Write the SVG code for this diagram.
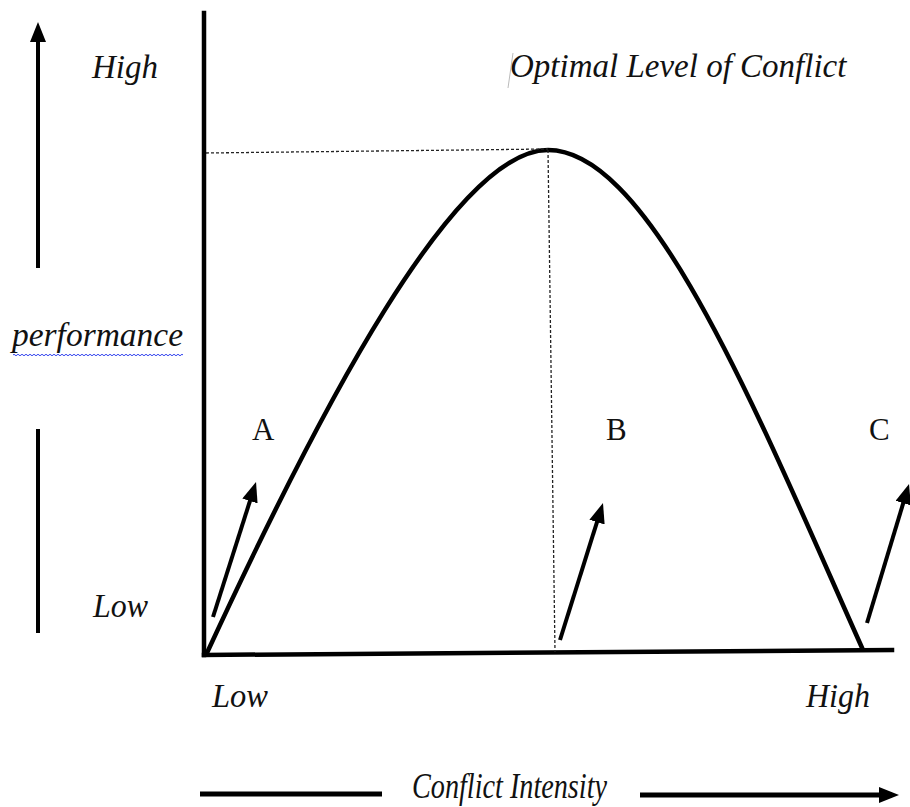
<svg xmlns="http://www.w3.org/2000/svg" width="910" height="807" viewBox="0 0 910 807">
<defs>
<style>
.lbl{font-family:"Liberation Serif","Times New Roman",serif;font-style:italic;font-size:34px;fill:#111}
.let{font-family:"Liberation Serif","Times New Roman",serif;font-size:31px;fill:#111}
.ax{stroke:#000;stroke-width:4.5;fill:none;stroke-linecap:square}
.arr{stroke:#000;stroke-width:4;fill:none;marker-end:url(#ah)}
.dot{stroke:#222;stroke-width:1.3;stroke-dasharray:3 2;fill:none}
</style>
<marker id="ah" markerUnits="userSpaceOnUse" markerWidth="20" markerHeight="16" viewBox="0 0 20 16" refX="13" refY="8" orient="auto">
<path d="M0,0 L20,8 L0,16 z" fill="#000"/>
</marker>
</defs>
<rect width="910" height="807" fill="#fff"/>

<g id="axes">
<line class="ax" x1="204" y1="13" x2="204" y2="655"/>
<line class="ax" x1="204" y1="655" x2="892" y2="650"/>
</g>

<g id="curve">
<path d="M206,655 C320,408 455,150 548,150 C652,150 760,420 863,650" stroke="#000" stroke-width="4.5" fill="none"/>
</g>

<g id="guides">
<line class="dot" x1="206" y1="153" x2="548" y2="149"/>
<line class="dot" x1="548" y1="150" x2="555" y2="652"/>
<line x1="513" y1="53" x2="508" y2="88" stroke="#bbb" stroke-width="1"/>
</g>

<g id="connectors">
<line class="arr" x1="38" y1="268" x2="38" y2="29"/>
<line x1="38" y1="429" x2="38" y2="633" stroke="#000" stroke-width="4"/>
<line class="arr" x1="213" y1="617" x2="253.9" y2="488.6"/>
<line class="arr" x1="560" y1="640" x2="600.9" y2="509.7"/>
<line class="arr" x1="867" y1="623" x2="907" y2="490.7"/>
<line x1="200" y1="794" x2="382" y2="794" stroke="#000" stroke-width="5"/>
<line class="arr" x1="640" y1="795" x2="892" y2="795" style="stroke-width:5"/>
</g>

<g id="label-high-y"><text class="lbl" x="92" y="78" textLength="66" lengthAdjust="spacingAndGlyphs">High</text></g>
<g id="label-optimal"><text class="lbl" x="510" y="77" style="font-size:33px">Optimal Level of Conflict</text></g>
<g id="label-performance">
<text class="lbl" x="12" y="346" textLength="171" lengthAdjust="spacingAndGlyphs">performance</text>
<path d="M13,355 q1,-1.5 2,0 t2,0 t2,0 t2,0 t2,0 t2,0 t2,0 t2,0 t2,0 t2,0 t2,0 t2,0 t2,0 t2,0 t2,0 t2,0 t2,0 t2,0 t2,0 t2,0 t2,0 t2,0 t2,0 t2,0 t2,0 t2,0 t2,0 t2,0 t2,0 t2,0 t2,0 t2,0 t2,0 t2,0 t2,0 t2,0 t2,0 t2,0 t2,0 t2,0 t2,0 t2,0 t2,0 t2,0 t2,0 t2,0 t2,0 t2,0 t2,0 t2,0 t2,0 t2,0 t2,0 t2,0 t2,0 t2,0 t2,0 t2,0 t2,0 t2,0 t2,0 t2,0 t2,0 t2,0 t2,0 t2,0 t2,0 t2,0 t2,0 t2,0 t2,0 t2,0 t2,0 t2,0 t2,0 t2,0 t2,0 t2,0 t2,0 t2,0 t2,0 t2,0 t2,0 t2,0 t2,0" stroke="#3344ee" stroke-width="1" fill="none"/>
</g>
<g id="label-low-y"><text class="lbl" x="93" y="617" textLength="55" lengthAdjust="spacingAndGlyphs">Low</text></g>
<g id="label-A"><text class="let" x="252" y="440">A</text></g>
<g id="label-B"><text class="let" x="606" y="440">B</text></g>
<g id="label-C"><text class="let" x="869" y="440">C</text></g>
<g id="label-low-x"><text class="lbl" x="212" y="707" textLength="56" lengthAdjust="spacingAndGlyphs">Low</text></g>
<g id="label-high-x"><text class="lbl" x="806" y="707" textLength="64" lengthAdjust="spacingAndGlyphs">High</text></g>
<g id="label-intensity"><text class="lbl" x="412" y="798" style="font-size:35px" textLength="195" lengthAdjust="spacingAndGlyphs">Conflict Intensity</text></g>
</svg>
